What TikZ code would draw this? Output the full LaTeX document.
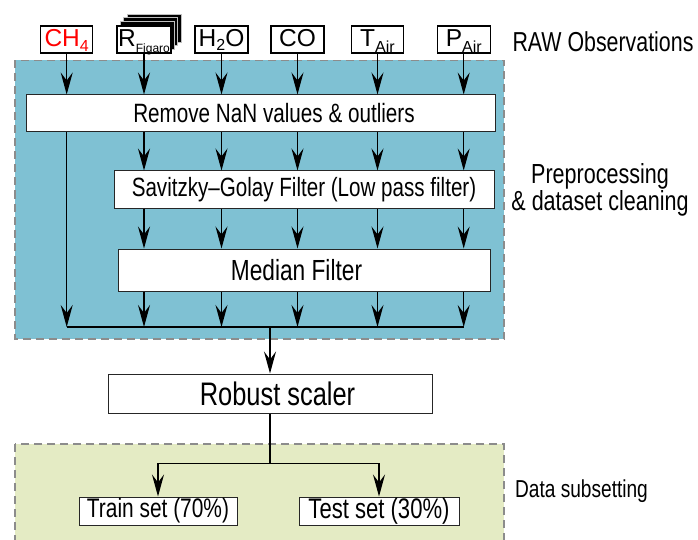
\documentclass[tikz,border=0pt]{standalone}
\usepackage{fontspec}
\setmainfont[FakeStretch=0.78]{Liberation Sans}
\newfontfamily\topfont{Liberation Sans}
\usetikzlibrary{arrows.meta}
\newcommand{\fsz}[1]{\fontsize{#1}{#1}\selectfont}
\newcommand{\lsub}[3][16]{\raisebox{-#3}{\fsz{#1}#2}}
\definecolor{bluebg}{HTML}{7FC1D3}
\definecolor{greenbg}{HTML}{E4EBC4}
\begin{document}
\begin{tikzpicture}[x=1pt,y=-1pt,line join=miter,
  arr/.style={line width=1.2pt,-{Stealth[length=22pt,width=12pt,inset=8pt]}},
  ln/.style={line width=1.2pt},
  inbox/.style={draw=black,line width=1.2pt,fill=white,minimum width=52pt,minimum height=27pt,inner sep=0pt,text height=19.5pt,text depth=5.5pt,font=\topfont\fsz{24.5}},
  proc/.style={draw=black!85,line width=1pt,fill=white,inner sep=0pt},
  region/.style={draw=gray!90,dash pattern=on 8pt off 5pt,line width=1.5pt},
  lbl/.style={inner sep=0pt,anchor=base}]
\useasboundingbox (0,0) rectangle (698,540);

% regions
\draw[region,fill=bluebg] (15,60.5) rectangle (504,339);
\draw[region,fill=greenbg] (15,444) rectangle (504,560);

% inputs
\foreach \i in {3,2,1}
  \draw[fill=black,draw=gray!50,line width=0.6pt] (117+3.3*\i,25-3.7*\i) rectangle ++(54,28);
\node[inbox] (ch4) at (66.7,39.5) {\color{red}CH\lsub{4}{5.5pt}};
\node[inbox,minimum width=54pt] (rfig) at (144,39.5) {R\lsub[12]{Figaro}{6pt}};
\node[inbox,minimum width=53pt] (h2o) at (221.5,39.5) {H\lsub{2}{4.5pt}O};
\node[inbox,minimum width=53pt] (co) at (297.5,39.5) {CO};
\node[inbox] (tair) at (377.5,39.5) {T\lsub{Air}{6.5pt}};
\node[inbox,minimum width=53pt] (pair) at (463.7,39.5) {P\lsub{Air}{6.5pt}};

% processing boxes
\node[proc,minimum width=469pt,minimum height=37pt,font=\fsz{26.5}] (rm) at (260.5,113.5) {\hspace*{27pt}Remove NaN values \& outliers};
\node[proc,minimum width=380pt,minimum height=37pt,font=\fsz{26.4}] (sg) at (304,189.5) {Savitzky–Golay Filter (Low pass filter)};
\node[proc,minimum width=372pt,minimum height=42pt,font=\fsz{29.1}] (md) at (304,270) {Median Filter\hspace*{15pt}};
\node[proc,minimum width=324pt,minimum height=39pt,font=\fsz{32.6}] (rs) at (270,393.5) {\hspace*{15pt}Robust scaler};
\node[proc,minimum width=158pt,minimum height=28pt,font=\fsz{26.8}] (tr) at (158,511) {Train set (70\%)};
\node[proc,minimum width=160pt,minimum height=28pt,font=\fsz{28.3}] (te) at (379,511) {Test set (30\%)};

% side labels
\node[lbl,font=\fsz{27.4}] (raw) at (603,52) {RAW Observations};
\node[inner sep=0pt,align=center,font=\fontsize{27.6}{27}\selectfont] (pre) at (600,190) {Preprocessing\\\& dataset cleaning};
\node[lbl,font=\fsz{24.5}] (ds) at (581.5,497) {Data subsetting};

% connectors
\coordinate (jl) at (0,327);
\draw[arr] (ch4.south) -- (ch4.south |- rm.north);
\draw[arr] (ch4.south |- rm.south) -- (ch4.south |- jl);
\foreach \n in {rfig,h2o,co,tair,pair}{
  \draw[arr] (\n.south) -- (\n.south |- rm.north);
  \draw[arr] (\n.south |- rm.south) -- (\n.south |- sg.north);
  \draw[arr] (\n.south |- sg.south) -- (\n.south |- md.north);
  \draw[arr] (\n.south |- md.south) -- (\n.south |- jl);
}
\draw[ln] (ch4.south |- jl) -- (pair.south |- jl);
\draw[arr] (rs.north |- jl) -- (rs.north);
\draw[ln] (rs.south) -- ++(0,50) coordinate (sp);
\draw[arr] (sp) -| (tr.north);
\draw[arr] (sp) -| (te.north);
\end{tikzpicture}
\end{document}
